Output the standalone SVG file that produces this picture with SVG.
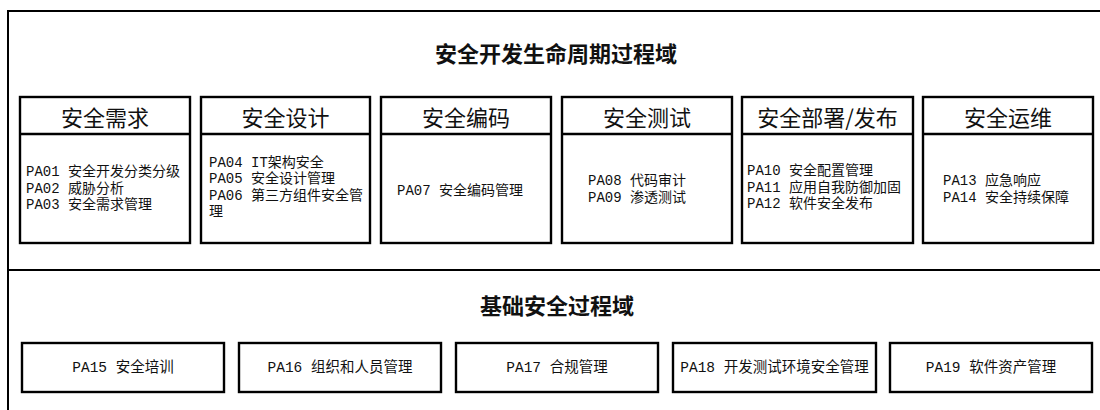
<svg xmlns="http://www.w3.org/2000/svg" width="1100" height="410" viewBox="0 0 1100 410">
<style>
  .frame{fill:none;stroke:#000;stroke-width:2}
  .box{fill:#fff;stroke:#000;stroke-width:2.4}
  .title{font-family:"Noto Sans CJK SC","Liberation Sans",sans-serif;font-size:22px;font-weight:bold;fill:#111;text-anchor:middle}
  .head{font-family:"Noto Sans CJK SC","Liberation Sans",sans-serif;font-size:22px;fill:#111;text-anchor:middle}
  .body{font-family:"Liberation Mono","Noto Sans CJK SC",monospace;font-size:14px;fill:#111}
  .pa{font-family:"Liberation Mono","Noto Sans CJK SC",monospace;font-size:14.5px;fill:#111;text-anchor:middle}
</style>
<rect width="1100" height="410" fill="#fff"/>
<g id="frame">
  <rect class="frame" x="8" y="11" width="1110" height="420"/>
  <line class="frame" x1="8" y1="270" x2="1100" y2="270"/>
</g>
<g id="sdl-domain">
  <text class="title" x="556" y="62">安全开发生命周期过程域</text>
</g>
<g id="req">
  <rect class="box" x="20" y="97" width="170" height="146"/>
  <line class="box" x1="20" y1="134" x2="190" y2="134"/>
  <text class="head" x="105" y="126">安全需求</text>
  <text class="body" x="26" y="176">PA01 安全开发分类分级</text>
  <text class="body" x="26" y="193">PA02 威胁分析</text>
  <text class="body" x="26" y="209">PA03 安全需求管理</text>
</g>
<g id="design">
  <rect class="box" x="201" y="97" width="169" height="146"/>
  <line class="box" x1="201" y1="134" x2="370" y2="134"/>
  <text class="head" x="285.5" y="126">安全设计</text>
  <text class="body" x="209" y="167">PA04 IT架构安全</text>
  <text class="body" x="209" y="183">PA05 安全设计管理</text>
  <text class="body" x="209" y="200">PA06 第三方组件安全管</text>
  <text class="body" x="209" y="216">理</text>
</g>
<g id="coding">
  <rect class="box" x="381" y="97" width="170" height="146"/>
  <line class="box" x1="381" y1="134" x2="551" y2="134"/>
  <text class="head" x="466" y="126">安全编码</text>
  <text class="body" x="397" y="195">PA07 安全编码管理</text>
</g>
<g id="testing">
  <rect class="box" x="562" y="97" width="170" height="146"/>
  <line class="box" x1="562" y1="134" x2="732" y2="134"/>
  <text class="head" x="647" y="126">安全测试</text>
  <text class="body" x="588" y="185">PA08 代码审计</text>
  <text class="body" x="588" y="202">PA09 渗透测试</text>
</g>
<g id="deploy">
  <rect class="box" x="742" y="97" width="171" height="146"/>
  <line class="box" x1="742" y1="134" x2="913" y2="134"/>
  <text class="head" x="827.5" y="126">安全部署/发布</text>
  <text class="body" x="747" y="175">PA10 安全配置管理</text>
  <text class="body" x="747" y="192">PA11 应用自我防御加固</text>
  <text class="body" x="747" y="208">PA12 软件安全发布</text>
</g>
<g id="ops">
  <rect class="box" x="923" y="97" width="170" height="146"/>
  <line class="box" x1="923" y1="134" x2="1093" y2="134"/>
  <text class="head" x="1008" y="126">安全运维</text>
  <text class="body" x="943" y="185">PA13 应急响应</text>
  <text class="body" x="943" y="202">PA14 安全持续保障</text>
</g>
<g id="base-domain">
  <text class="title" x="557" y="314">基础安全过程域</text>
</g>
<g id="pa15">
  <rect class="box" x="22" y="343" width="202" height="49"/>
  <text class="pa" x="123" y="372">PA15 安全培训</text>
</g>
<g id="pa16">
  <rect class="box" x="239" y="343" width="202" height="49"/>
  <text class="pa" x="340" y="372">PA16 组织和人员管理</text>
</g>
<g id="pa17">
  <rect class="box" x="456" y="343" width="202" height="49"/>
  <text class="pa" x="557" y="372">PA17 合规管理</text>
</g>
<g id="pa18">
  <rect class="box" x="673" y="343" width="203" height="49"/>
  <text class="pa" x="774.5" y="372">PA18 开发测试环境安全管理</text>
</g>
<g id="pa19">
  <rect class="box" x="890" y="343" width="202" height="49"/>
  <text class="pa" x="991" y="372">PA19 软件资产管理</text>
</g>
<g id="connectors"></g>
</svg>
